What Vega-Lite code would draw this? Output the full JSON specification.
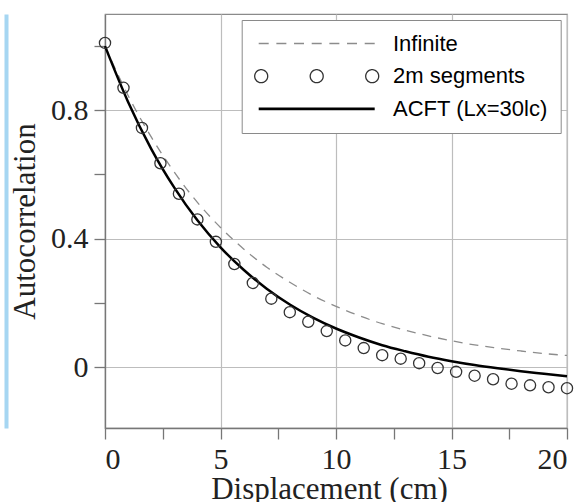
{
  "$schema": "https://vega.github.io/schema/vega-lite/v6.json",
  "width": 462,
  "height": 414,
  "autosize": {"type": "none"},
  "padding": {"left": 105, "top": 14, "right": 15, "bottom": 74},
  "background": "white",
  "config": {
    "view": {"stroke": "#8a8a8a", "strokeWidth": 1.2},
    "axis": {
      "labelFont": "Liberation Serif", "labelFontSize": 30, "labelColor": "#222",
      "titleFont": "Liberation Serif", "titleFontSize": 31, "titleFontWeight": "normal", "titleColor": "#222",
      "domainColor": "#777", "domainWidth": 1.3, "tickColor": "#777", "tickWidth": 1.3, "tickSize": 11,
      "gridColor": "#bdbdbd", "gridWidth": 1.2
    }
  },
  "data": {"values": [
    {"series": "Infinite", "x": 0, "y": 1.0},
    {"series": "Infinite", "x": 1, "y": 0.846},
    {"series": "Infinite", "x": 2, "y": 0.717},
    {"series": "Infinite", "x": 3, "y": 0.607},
    {"series": "Infinite", "x": 4, "y": 0.513},
    {"series": "Infinite", "x": 5, "y": 0.435},
    {"series": "Infinite", "x": 6, "y": 0.368},
    {"series": "Infinite", "x": 7, "y": 0.311},
    {"series": "Infinite", "x": 8, "y": 0.264},
    {"series": "Infinite", "x": 9, "y": 0.223},
    {"series": "Infinite", "x": 10, "y": 0.189},
    {"series": "Infinite", "x": 11, "y": 0.160},
    {"series": "Infinite", "x": 12, "y": 0.135},
    {"series": "Infinite", "x": 13, "y": 0.115},
    {"series": "Infinite", "x": 14, "y": 0.097},
    {"series": "Infinite", "x": 15, "y": 0.082},
    {"series": "Infinite", "x": 16, "y": 0.069},
    {"series": "Infinite", "x": 17, "y": 0.059},
    {"series": "Infinite", "x": 18, "y": 0.050},
    {"series": "Infinite", "x": 19, "y": 0.042},
    {"series": "Infinite", "x": 20, "y": 0.036},
    {"series": "ACFT (Lx=30lc)", "x": 0, "y": 1.0},
    {"series": "ACFT (Lx=30lc)", "x": 1, "y": 0.826},
    {"series": "ACFT (Lx=30lc)", "x": 2, "y": 0.680},
    {"series": "ACFT (Lx=30lc)", "x": 3, "y": 0.559},
    {"series": "ACFT (Lx=30lc)", "x": 4, "y": 0.457},
    {"series": "ACFT (Lx=30lc)", "x": 5, "y": 0.373},
    {"series": "ACFT (Lx=30lc)", "x": 6, "y": 0.303},
    {"series": "ACFT (Lx=30lc)", "x": 7, "y": 0.244},
    {"series": "ACFT (Lx=30lc)", "x": 8, "y": 0.195},
    {"series": "ACFT (Lx=30lc)", "x": 9, "y": 0.154},
    {"series": "ACFT (Lx=30lc)", "x": 10, "y": 0.120},
    {"series": "ACFT (Lx=30lc)", "x": 11, "y": 0.092},
    {"series": "ACFT (Lx=30lc)", "x": 12, "y": 0.068},
    {"series": "ACFT (Lx=30lc)", "x": 13, "y": 0.049},
    {"series": "ACFT (Lx=30lc)", "x": 14, "y": 0.032},
    {"series": "ACFT (Lx=30lc)", "x": 15, "y": 0.018},
    {"series": "ACFT (Lx=30lc)", "x": 16, "y": 0.006},
    {"series": "ACFT (Lx=30lc)", "x": 17, "y": -0.004},
    {"series": "ACFT (Lx=30lc)", "x": 18, "y": -0.013},
    {"series": "ACFT (Lx=30lc)", "x": 19, "y": -0.021},
    {"series": "ACFT (Lx=30lc)", "x": 20, "y": -0.029},
    {"series": "2m segments", "x": 0, "y": 1.01},
    {"series": "2m segments", "x": 0.8, "y": 0.87},
    {"series": "2m segments", "x": 1.6, "y": 0.745},
    {"series": "2m segments", "x": 2.4, "y": 0.635},
    {"series": "2m segments", "x": 3.2, "y": 0.54},
    {"series": "2m segments", "x": 4.0, "y": 0.46},
    {"series": "2m segments", "x": 4.8, "y": 0.39},
    {"series": "2m segments", "x": 5.6, "y": 0.321},
    {"series": "2m segments", "x": 6.4, "y": 0.262},
    {"series": "2m segments", "x": 7.2, "y": 0.213},
    {"series": "2m segments", "x": 8.0, "y": 0.171},
    {"series": "2m segments", "x": 8.8, "y": 0.141},
    {"series": "2m segments", "x": 9.6, "y": 0.112},
    {"series": "2m segments", "x": 10.4, "y": 0.083},
    {"series": "2m segments", "x": 11.2, "y": 0.059},
    {"series": "2m segments", "x": 12.0, "y": 0.037},
    {"series": "2m segments", "x": 12.8, "y": 0.026},
    {"series": "2m segments", "x": 13.6, "y": 0.012},
    {"series": "2m segments", "x": 14.4, "y": -0.003},
    {"series": "2m segments", "x": 15.2, "y": -0.015},
    {"series": "2m segments", "x": 16.0, "y": -0.027},
    {"series": "2m segments", "x": 16.8, "y": -0.038},
    {"series": "2m segments", "x": 17.6, "y": -0.052},
    {"series": "2m segments", "x": 18.4, "y": -0.057},
    {"series": "2m segments", "x": 19.2, "y": -0.063},
    {"series": "2m segments", "x": 20.0, "y": -0.066}
  ]},
  "resolve": {"axis": {"y": "independent"}},
  "layer": [
    {
      "transform": [{"filter": "datum.series === 'Infinite'"}],
      "mark": {"type": "line", "interpolate": "monotone", "strokeDash": [9, 7], "strokeWidth": 1.3},
      "encoding": {
        "x": {"field": "x", "type": "quantitative", "scale": {"domain": [0, 20], "nice": false},
          "axis": {"title": "Displacement (cm)", "values": [0, 2.5, 5, 7.5, 10, 12.5, 15, 17.5, 20],
            "labelExpr": "datum.value % 5 === 0 ? datum.label : ''", "labelPadding": 5, "titlePadding": 0, "titleX": 224,
            "gridOpacity": {"condition": {"test": "datum.value % 5 !== 0", "value": 0}, "value": 1}}},
        "y": {"field": "y", "type": "quantitative", "scale": {"domain": [-0.19, 1.1], "nice": false, "zero": false},
          "axis": {"title": "Autocorrelation", "values": [0, 0.2, 0.4, 0.6, 0.8, 1.0],
            "labelExpr": "(abs(datum.value) < 0.001) ? '0' : (abs(datum.value - 0.4) < 0.001 || abs(datum.value - 0.8) < 0.001) ? format(datum.value, '.1f') : ''",
            "labelPadding": 6, "titlePadding": 9,
            "gridOpacity": {"condition": {"test": "abs(datum.value - 0.2) < 0.001 || abs(datum.value - 0.6) < 0.001 || abs(datum.value - 1) < 0.001", "value": 0}, "value": 1}}},
        "color": {"field": "series", "type": "nominal",
          "scale": {"domain": ["Infinite", "2m segments", "ACFT (Lx=30lc)"], "range": ["#8c8c8c", "#333333", "#000000"]},
          "legend": {
            "title": null, "orient": "none", "legendX": 136.7, "legendY": 6,
            "padding": 12.5, "rowPadding": 10.7, "symbolOffset": 51.5, "labelOffset": 65.3,
            "labelFont": "Liberation Sans", "labelFontSize": 22, "labelColor": "#000", "labelLimit": 400,
            "fillColor": "white", "strokeColor": "#8a8a8a", "symbolSize": 100,
            "encode": {"symbols": {"update": {
              "shape": {"signal": "datum.value === 'Infinite' ? 'M-11.6,0H-9.6M-8.067,0H-6.067M-4.533,0H-2.533M-1,0H1M2.533,0H4.533M6.067,0H8.067M9.6,0H11.6' : datum.value === '2m segments' ? 'M-12.4,0A1.3,1.3 0 1,0 -9.8,0A1.3,1.3 0 1,0 -12.4,0ZM-1.3,0A1.3,1.3 0 1,0 1.3,0A1.3,1.3 0 1,0 -1.3,0ZM9.8,0A1.3,1.3 0 1,0 12.4,0A1.3,1.3 0 1,0 9.8,0Z' : 'M-11.6,0H11.6'"},
              "stroke": {"signal": "datum.value === 'Infinite' ? '#8c8c8c' : datum.value === '2m segments' ? '#333333' : '#000000'"},
              "strokeWidth": {"signal": "datum.value === 'ACFT (Lx=30lc)' ? 2.6 : 1.3"},
              "strokeDash": {"value": [1, 0]},
              "fill": {"value": "transparent"},
              "opacity": {"value": 1},
              "size": {"value": 100}
            }}}
          }}
      }
    },
    {
      "transform": [{"filter": "datum.series === 'ACFT (Lx=30lc)'"}],
      "mark": {"type": "line", "interpolate": "monotone", "strokeWidth": 2.5},
      "encoding": {
        "x": {"field": "x", "type": "quantitative"},
        "y": {"field": "y", "type": "quantitative", "axis": null},
        "color": {"field": "series", "type": "nominal"}
      }
    },
    {
      "transform": [{"filter": "datum.series === '2m segments'"}],
      "mark": {"type": "point", "filled": false, "size": 125, "strokeWidth": 1.3, "opacity": 1},
      "encoding": {
        "x": {"field": "x", "type": "quantitative"},
        "y": {"field": "y", "type": "quantitative",
          "axis": {"orient": "left", "offset": 99, "domainColor": "#a6d6f2", "domainWidth": 4, "labels": false, "ticks": false, "grid": false, "title": null}},
        "color": {"field": "series", "type": "nominal"}
      }
    }
  ]
}
